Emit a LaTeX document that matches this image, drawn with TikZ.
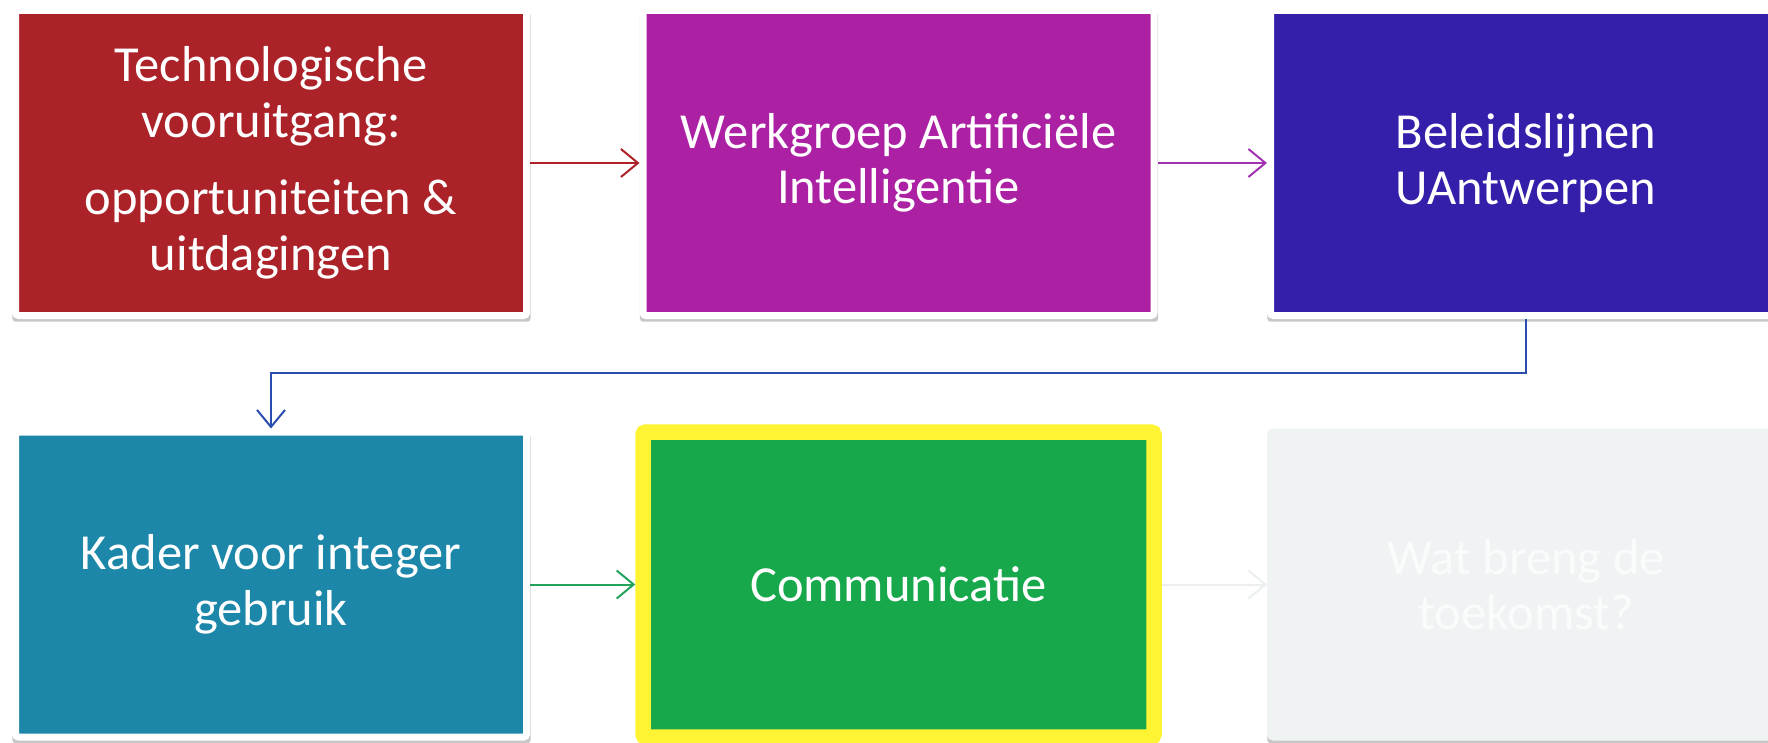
\documentclass[tikz,border=0pt]{standalone}
\usepackage{fontspec}
\setmainfont{Carlito}
\usetikzlibrary{arrows.meta,shadows,calc}
\definecolor{cRed}{HTML}{AC2229}
\definecolor{cPurple}{HTML}{AC20A4}
\definecolor{cViolet}{HTML}{331FA9}
\definecolor{cTeal}{HTML}{1C87A9}
\definecolor{cGreen}{HTML}{17A84C}
\definecolor{cYellow}{HTML}{FFF433}
\definecolor{cGray}{HTML}{F0F3F4}
\definecolor{cGrayText}{HTML}{FAFBFB}
\definecolor{aRed}{HTML}{AE2129}
\definecolor{aPurple}{HTML}{A232B2}
\definecolor{aBlue}{HTML}{2A4DAE}
\definecolor{aGreen}{HTML}{22A35C}
\definecolor{aGray}{HTML}{EBEFF0}
\begin{document}
\begin{tikzpicture}[x=1pt,y=-1pt,
  box/.style={draw=white, line width=7pt, rounded corners=3pt,
    minimum width=511pt, minimum height=305pt, inner sep=4pt,
    align=center, text=white, font=\fontsize{50.5}{55.5}\selectfont,
    drop shadow={shadow xshift=0.5pt, shadow yshift=-4pt, shadow scale=1.014, opacity=0.22, fill=black}},
  fadedbox/.style={box, draw=cGray, fill=cGray, text=cGrayText,
    drop shadow={shadow xshift=0.5pt, shadow yshift=-2pt, shadow scale=1.004, opacity=0.12, fill=black}},
  arr/.style={line width=2pt, -{Straight Barb[length=17pt, width=28pt, line width=2pt]}}
]
\useasboundingbox (0,0) rectangle (1768,743);
\fill[white] (0,0) rectangle (1768,743);

\node[box, fill=cRed] (b1) at (271,163) {Technologische\\vooruitgang:\\[22pt]opportuniteiten \&\\uitdagingen};
\node[box, fill=cPurple] (b2) at (898.5,163) {Werkgroep Artificiële\\Intelligentie};
\node[box, fill=cViolet] (b3) at (1526,163) {Beleidslijnen\\UAntwerpen};
\node[box, fill=cTeal] (b4) at (271,584.5) {Kader voor integer\\gebruik};
\node[box, fill=cGreen, draw=cYellow, line width=15.5pt] (b5) at (898.5,584.5) {Communicatie};
\node[fadedbox] (b6) at (1526,584.5) {Wat breng de\\toekomst?};

\draw[arr, aRed] (b1.east) -- (b2.west);
\draw[arr, aPurple] (b2.east) -- (b3.west);
\draw[arr, aBlue] (b3.south) -- ++(0,54) -| (b4.north);
\draw[arr, aGreen] (b4.east) -- (b5.west);
\draw[arr, aGray] (b5.east) -- (b6.west);
\end{tikzpicture}
\end{document}
